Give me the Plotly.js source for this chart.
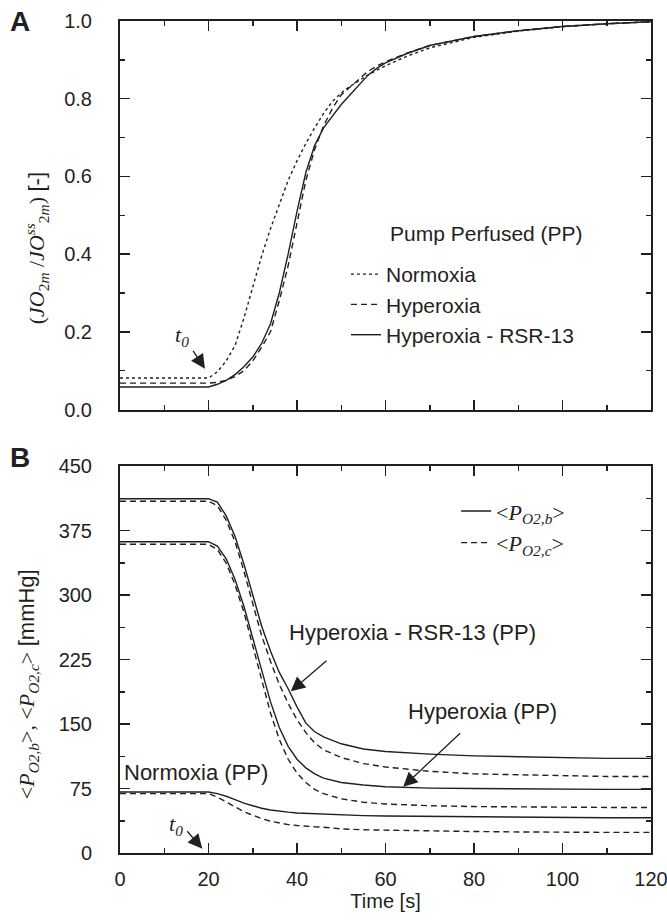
<!DOCTYPE html>
<html>
<head>
<meta charset="utf-8">
<script src="https://cdn.plot.ly/plotly-3.0.1.min.js"></script>
<style>html,body{margin:0;padding:0;background:#fff;}#chart{width:667px;height:922px;}</style>
</head>
<body>
<div id="chart"></div>
<script>
// ---------- Panel A data ----------
const tA = [0, 20, 22, 24, 26, 28, 30, 32, 34, 36, 38, 40, 42, 44, 46, 48, 50, 52, 54, 56, 58, 60, 65, 70, 80, 90, 100, 110, 120];
const normoxiaA = [0.081, 0.081, 0.097, 0.125, 0.165, 0.235, 0.315, 0.395, 0.465, 0.53, 0.59, 0.64, 0.685, 0.725, 0.762, 0.793, 0.815, 0.832, 0.847, 0.861, 0.873, 0.885, 0.91, 0.931, 0.958, 0.974, 0.985, 0.993, 0.998];
const hyperoxiaA = [0.068, 0.068, 0.07, 0.075, 0.085, 0.10, 0.125, 0.16, 0.20, 0.28, 0.37, 0.48, 0.59, 0.67, 0.73, 0.775, 0.81, 0.83, 0.85, 0.87, 0.884, 0.895, 0.918, 0.937, 0.96, 0.975, 0.986, 0.993, 0.998];
const rsr13A = [0.058, 0.058, 0.065, 0.075, 0.09, 0.11, 0.135, 0.17, 0.22, 0.30, 0.40, 0.51, 0.61, 0.68, 0.725, 0.755, 0.785, 0.81, 0.835, 0.86, 0.878, 0.892, 0.917, 0.937, 0.96, 0.975, 0.986, 0.993, 0.998];

// ---------- Panel B data ----------
const tB = [0, 20, 22, 24, 26, 28, 30, 32, 34, 36, 38, 40, 42, 44, 46, 50, 55, 60, 70, 80, 90, 100, 110, 120];
const rsrB_b = [412, 412, 408, 392, 368, 336, 300, 264, 235, 210, 191, 170, 151, 141, 135, 127, 121, 118, 115, 113, 112, 111, 110, 110];
const rsrB_c = [409, 409, 404, 387, 362, 328, 290, 253, 223, 196, 174, 155, 140, 128, 120, 111, 104, 100, 95, 92, 91, 90, 89, 89];
const hypB_b = [362, 362, 357, 342, 318, 287, 250, 212, 176, 146, 124, 109, 99, 92, 87, 82, 79, 77, 75.5, 75, 74.5, 74, 74, 74];
const hypB_c = [359, 359, 353, 337, 312, 280, 241, 201, 163, 132, 109, 93, 82, 74, 69, 63, 59, 57, 55, 54, 53.5, 53, 53, 53];
const norB_b = [71, 71, 69, 66, 62, 58, 55, 52, 50, 48.5, 47.5, 46.5, 46, 45.5, 45, 44, 43.5, 43, 42.5, 42, 41.5, 41.5, 41, 41];
const norB_c = [69, 69, 65, 59, 53, 48, 44, 40, 37, 35, 33, 32, 31, 30.5, 30, 28, 27, 26.5, 25.5, 25, 24.5, 24, 24, 24];

// ---------- labels ----------
const legendA = ['Normoxia', 'Hyperoxia', 'Hyperoxia - RSR-13'];
const legendB = ['&lt;<i>P</i><sub><i>O2,b</i></sub>&gt;', '&lt;<i>P</i><sub><i>O2,c</i></sub>&gt;'];
const xTicksB = [0, 20, 40, 60, 80, 100, 120];

const SANS = 'Liberation Sans, Arial, sans-serif';
const SERIF = 'Liberation Serif, Times New Roman, serif';
const INK = '#231f20';
const LW = 1.4;

const traces = [
  {x: tA, y: normoxiaA, name: legendA[0], mode: 'lines', line: {color: INK, width: LW, dash: 'dot'}, xaxis: 'x', yaxis: 'y', legend: 'legend'},
  {x: tA, y: hyperoxiaA, name: legendA[1], mode: 'lines', line: {color: INK, width: LW, dash: '6px,4px'}, xaxis: 'x', yaxis: 'y', legend: 'legend'},
  {x: tA, y: rsr13A, name: legendA[2], mode: 'lines', line: {color: INK, width: LW}, xaxis: 'x', yaxis: 'y', legend: 'legend'},
  {x: tB, y: rsrB_b, name: legendB[0], mode: 'lines', line: {color: INK, width: LW}, xaxis: 'x2', yaxis: 'y2', legend: 'legend2'},
  {x: tB, y: rsrB_c, name: legendB[1], mode: 'lines', line: {color: INK, width: LW, dash: '6px,4px'}, xaxis: 'x2', yaxis: 'y2', legend: 'legend2'},
  {x: tB, y: hypB_b, mode: 'lines', line: {color: INK, width: LW}, xaxis: 'x2', yaxis: 'y2', showlegend: false},
  {x: tB, y: hypB_c, mode: 'lines', line: {color: INK, width: LW, dash: '6px,4px'}, xaxis: 'x2', yaxis: 'y2', showlegend: false},
  {x: tB, y: norB_b, mode: 'lines', line: {color: INK, width: LW}, xaxis: 'x2', yaxis: 'y2', showlegend: false},
  {x: tB, y: norB_c, mode: 'lines', line: {color: INK, width: LW, dash: '6px,4px'}, xaxis: 'x2', yaxis: 'y2', showlegend: false}
];

const axisCommon = {
  showline: true, linecolor: INK, linewidth: 2, mirror: 'ticks',
  ticks: 'inside', ticklen: 10, tickwidth: 1.5, tickcolor: INK,
  showgrid: false, zeroline: false, fixedrange: true,
  tickfont: {family: SANS, size: 20, color: INK}
};

function ax(extra) { return Object.assign({}, JSON.parse(JSON.stringify(axisCommon)), extra); }

const layout = {
  width: 667, height: 922,
  margin: {l: 120, r: 16, t: 21, b: 69},
  paper_bgcolor: '#fff', plot_bgcolor: '#fff',
  showlegend: true,
  xaxis: ax({domain: [0, 1], range: [0, 120], dtick: 20, tick0: 0, showticklabels: false, anchor: 'y',
    minor: {dtick: 10, ticks: 'inside', ticklen: 5, tickwidth: 1.5, tickcolor: INK}}),
  yaxis: ax({domain: [0.533, 1], range: [0, 1], dtick: 0.2, tick0: 0, tickformat: '.1f', anchor: 'x', ticklabelstandoff: 22,
    minor: {dtick: 0.1, ticks: 'inside', ticklen: 5, tickwidth: 1.5, tickcolor: INK}}),
  xaxis2: ax({domain: [0, 1], range: [0, 120], tickvals: xTicksB, anchor: 'y2', ticklabelstandoff: 7, ticklabeloverflow: 'allow',
    minor: {dtick: 10, ticks: 'inside', ticklen: 5, tickwidth: 1.5, tickcolor: INK},
    title: {text: 'Time [s]', font: {family: SANS, size: 20, color: INK}, standoff: 0}}),
  yaxis2: ax({domain: [0, 0.4651], range: [0, 450], dtick: 75, tick0: 0, anchor: 'x2', ticklabelstandoff: 22,
    minor: {dtick: 37.5, ticks: 'inside', ticklen: 5, tickwidth: 1.5, tickcolor: INK}}),
  legend: {x: 0.4256, y: 0.72, xanchor: 'left', yanchor: 'top', bgcolor: 'rgba(0,0,0,0)',
    font: {family: SANS, size: 21, color: INK}, tracegroupgap: 0, itemwidth: 30},
  legend2: {x: 0.633, y: 0.436, xanchor: 'left', yanchor: 'top', bgcolor: 'rgba(0,0,0,0)',
    font: {family: SERIF, size: 22, color: INK}, tracegroupgap: 0, itemwidth: 30},
  annotations: [
    {xref: 'paper', yref: 'paper', x: -0.21, y: 1.0, xanchor: 'left', yanchor: 'middle', showarrow: false,
      text: '<b>A</b>', font: {family: SANS, size: 28, color: INK}},
    {xref: 'paper', yref: 'paper', x: -0.21, y: 0.475, xanchor: 'left', yanchor: 'middle', showarrow: false,
      text: '<b>B</b>', font: {family: SANS, size: 28, color: INK}},
    {xref: 'paper', yref: 'paper', x: -0.158, y: 0.727, xanchor: 'center', yanchor: 'middle', showarrow: false, textangle: -90,
      text: '(<i>JO</i><sub>2<i>m</i></sub> /<i>JO</i><sup><i>ss</i></sup><sub>2<i>m</i></sub>) <span style="font-family:Liberation Sans">[-]</span>',
      font: {family: SERIF, size: 22, color: INK}},
    {xref: 'paper', yref: 'paper', x: -0.173, y: 0.203, xanchor: 'center', yanchor: 'middle', showarrow: false, textangle: -90,
      text: '&lt;<i>P</i><sub><i>O2,b</i></sub>&gt;, &lt;<i>P</i><sub><i>O2,c</i></sub>&gt; <span style="font-family:Liberation Sans">[mmHg]</span>',
      font: {family: SERIF, size: 22, color: INK}},
    {xref: 'x', yref: 'y', x: 60.6, y: 0.454, xanchor: 'left', yanchor: 'middle', showarrow: false,
      text: 'Pump Perfused (PP)', font: {family: SANS, size: 21, color: INK}},
    // t0 panel A
    {xref: 'x', yref: 'y', x: 14.0, y: 0.19, xanchor: 'center', yanchor: 'middle', showarrow: false,
      text: '<i>t</i><sub><i>0</i></sub>', font: {family: SERIF, size: 22, color: INK}},
    {xref: 'x', yref: 'y', x: 19.2, y: 0.105, axref: 'x', ayref: 'y', ax: 16.3, ay: 0.155, text: '', showarrow: true,
      arrowhead: 2, arrowsize: 2.2, arrowwidth: 1.3, arrowcolor: INK},
    // panel B labels
    {xref: 'x2', yref: 'y2', x: 66.0, y: 256, xanchor: 'center', yanchor: 'middle', showarrow: false,
      text: 'Hyperoxia - RSR-13 (PP)', font: {family: SANS, size: 22, color: INK}},
    {xref: 'x2', yref: 'y2', x: 38.6, y: 188, axref: 'x2', ayref: 'y2', ax: 47.0, ay: 225, text: '', showarrow: true,
      arrowhead: 2, arrowsize: 2.2, arrowwidth: 1.3, arrowcolor: INK},
    {xref: 'x2', yref: 'y2', x: 82.0, y: 164, xanchor: 'center', yanchor: 'middle', showarrow: false,
      text: 'Hyperoxia (PP)', font: {family: SANS, size: 22, color: INK}},
    {xref: 'x2', yref: 'y2', x: 64.0, y: 77, axref: 'x2', ayref: 'y2', ax: 77.2, ay: 141, text: '', showarrow: true,
      arrowhead: 2, arrowsize: 2.2, arrowwidth: 1.3, arrowcolor: INK},
    {xref: 'x2', yref: 'y2', x: 0.5, y: 94, xanchor: 'left', yanchor: 'middle', showarrow: false,
      text: 'Normoxia (PP)', font: {family: SANS, size: 22, color: INK}},
    {xref: 'x2', yref: 'y2', x: 12.7, y: 33, xanchor: 'center', yanchor: 'middle', showarrow: false,
      text: '<i>t</i><sub><i>0</i></sub>', font: {family: SERIF, size: 22, color: INK}},
    {xref: 'x2', yref: 'y2', x: 18.6, y: 5, axref: 'x2', ayref: 'y2', ax: 14.9, ay: 27, text: '', showarrow: true,
      arrowhead: 2, arrowsize: 2.2, arrowwidth: 1.3, arrowcolor: INK}
  ]
};

Plotly.newPlot('chart', traces, layout, {displayModeBar: false, staticPlot: true});
</script>
</body>
</html>
